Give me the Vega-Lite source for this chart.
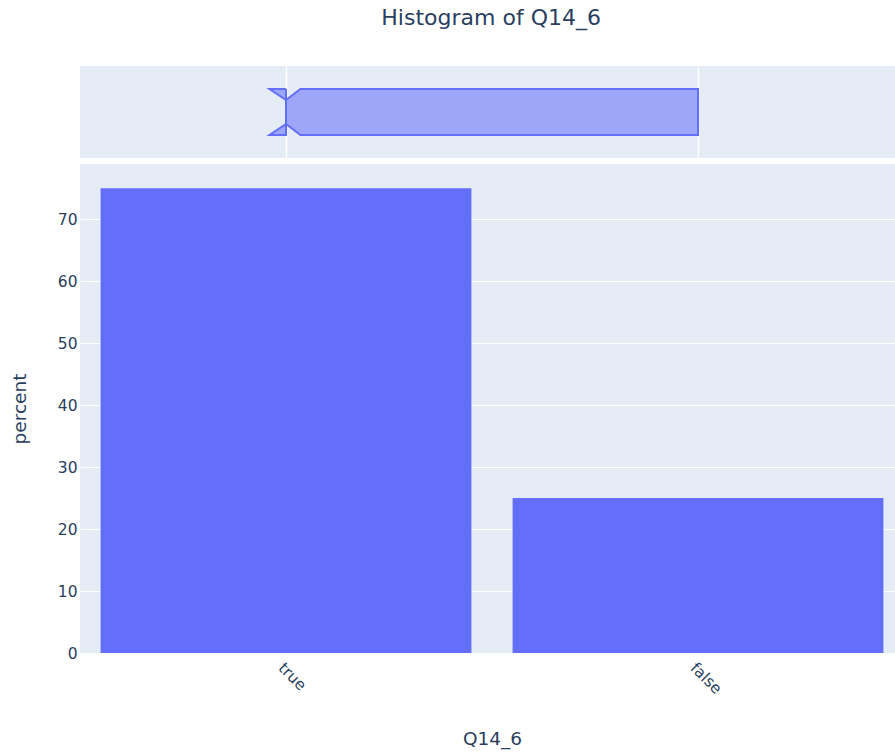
{
  "$schema": "https://vega.github.io/schema/vega-lite/v6.json",
  "background": "white",
  "padding": {"left": 10, "top": 7, "right": 0, "bottom": 5},
  "title": {"text": "Histogram of Q14_6", "fontSize": 22, "font": "DejaVu Sans", "fontWeight": "normal", "color": "#2a3f5f", "anchor": "middle", "offset": 36, "dx": 34},
  "config": {
    "font": "DejaVu Sans",
    "view": {"stroke": null, "fill": "#E5ECF6"},
    "axis": {"labelColor": "#2a3f5f", "titleColor": "#2a3f5f", "labelFont": "DejaVu Sans", "titleFont": "DejaVu Sans", "titleFontWeight": "normal", "gridColor": "white", "gridOpacity": 1, "domain": false, "ticks": false}
  },
  "datasets": {
    "bars": [{"Q14_6": "true", "percent": 75}, {"Q14_6": "false", "percent": 25}],
    "boxfill": [
      {"v": 0, "lo": 0.37, "hi": 0.63, "part": "body"},
      {"v": 0.035, "lo": 0.25, "hi": 0.75, "part": "body"},
      {"v": 1, "lo": 0.25, "hi": 0.75, "part": "body"},
      {"v": -0.04, "lo": 0.75, "hi": 0.75, "part": "top"},
      {"v": 0, "lo": 0.63, "hi": 0.75, "part": "top"},
      {"v": -0.04, "lo": 0.25, "hi": 0.25, "part": "bottom"},
      {"v": 0, "lo": 0.25, "hi": 0.37, "part": "bottom"}
    ],
    "outline": [
      {"i": 0, "v": 0, "y": 0.75},
      {"i": 1, "v": -0.04, "y": 0.75},
      {"i": 2, "v": 0, "y": 0.63},
      {"i": 3, "v": 0.035, "y": 0.75},
      {"i": 4, "v": 1, "y": 0.75},
      {"i": 5, "v": 1, "y": 0.25},
      {"i": 6, "v": 0.035, "y": 0.25},
      {"i": 7, "v": 0, "y": 0.37},
      {"i": 8, "v": -0.04, "y": 0.25},
      {"i": 9, "v": 0, "y": 0.25},
      {"i": 10, "v": 0, "y": 0.75}
    ]
  },
  "spacing": 6,
  "vconcat": [
    {
      "width": 824,
      "height": 92,
      "layer": [
        {
          "data": {"name": "boxfill"},
          "mark": {"type": "area", "color": "#636efa", "opacity": 0.55},
          "encoding": {
            "x": {"field": "v", "type": "quantitative", "scale": {"domain": [-0.5, 1.5], "nice": false, "zero": false}, "axis": {"values": [0, 1], "labels": false, "title": null, "grid": true, "gridWidth": 1.5}},
            "y": {"field": "lo", "type": "quantitative", "scale": {"domain": [0, 1], "nice": false}, "axis": null},
            "y2": {"field": "hi"},
            "detail": {"field": "part"}
          }
        },
        {
          "data": {"name": "outline"},
          "mark": {"type": "line", "color": "#636efa", "strokeWidth": 2, "strokeJoin": "miter"},
          "encoding": {
            "x": {"field": "v", "type": "quantitative"},
            "y": {"field": "y", "type": "quantitative"},
            "order": {"field": "i", "type": "quantitative"}
          }
        }
      ]
    },
    {
      "width": 824,
      "height": 489,
      "data": {"name": "bars"},
      "mark": {"type": "bar", "color": "#636efa"},
      "encoding": {
        "x": {"field": "Q14_6", "type": "nominal", "sort": ["true", "false"], "scale": {"paddingInner": 0.1, "paddingOuter": 0.05}, "axis": {"title": "Q14_6", "titleFontSize": 18.5, "labelFontSize": 15.5, "labelAngle": 45, "labelPadding": 7, "titlePadding": 32, "grid": false}},
        "y": {"field": "percent", "type": "quantitative", "scale": {"domain": [0, 78.9], "nice": false}, "axis": {"title": "percent", "titleFontSize": 18.5, "labelFontSize": 15.5, "values": [0, 10, 20, 30, 40, 50, 60, 70], "labelPadding": 3, "titlePadding": 28, "gridWidth": 1}}
      }
    }
  ]
}
